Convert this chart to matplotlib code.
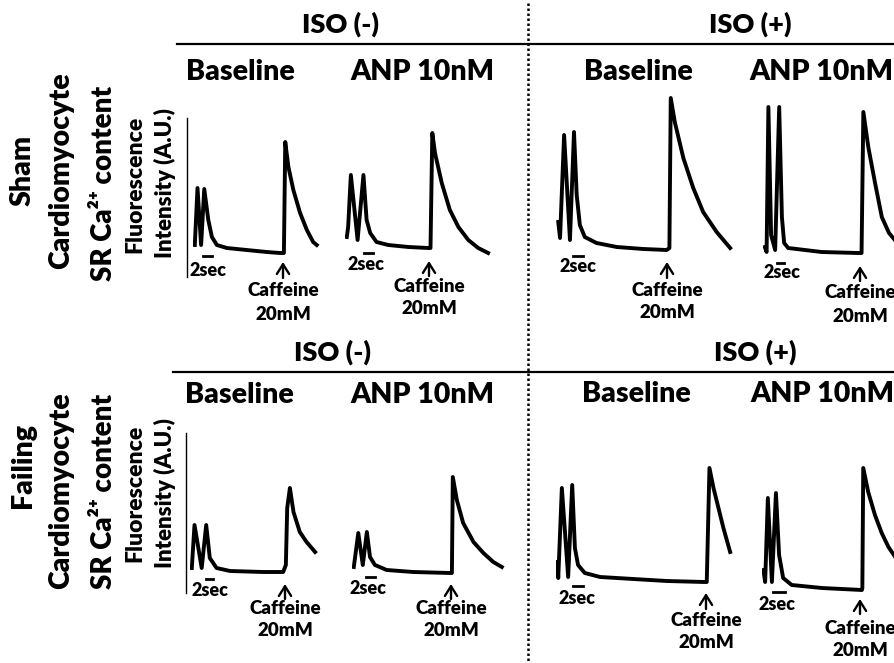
import matplotlib
matplotlib.use("Agg")
import matplotlib.pyplot as plt

plt.rcParams['font.family'] = ['Lato', 'DejaVu Sans']
plt.rcParams['font.weight'] = 'heavy'

# ---- traces: time (s) and fluorescence (A.U.) ----
# Sham, ISO(-)
t_sham_neg_base = [0.4, 1.0, 1.8, 2.5, 3.4, 4.2, 5.3, 7.5, 11.9, 16.4, 19.3, 20.2, 20.5, 21.2, 22.3, 23.8, 25.3, 26.7, 27.5]
f_sham_neg_base = [20, 77, 20, 76, 45, 28, 20, 17, 15, 13, 12, 12, 123, 98, 75, 52, 35, 23, 20]
t_sham_neg_anp = [0.4, 0.7, 1.3, 2.8, 4.1, 4.8, 5.6, 7.0, 9.6, 14.1, 18.5, 19.0, 19.4, 20.0, 21.5, 23.3, 25.2, 27.4, 29.6, 31.8]
f_sham_neg_anp = [28, 38, 90, 25, 90, 45, 32, 23, 20, 18, 17, 17, 132, 112, 82, 55, 38, 25, 17, 12]
# Sham, ISO(+)
t_sham_pos_base = [0.5, 0.9, 1.8, 3.1, 4.0, 4.6, 5.3, 6.4, 9.0, 13.5, 19.4, 24.6, 25.2, 25.5, 26.4, 28.3, 30.5, 32.7, 35.7, 38.7]
f_sham_pos_base = [43, 27, 130, 25, 133, 70, 40, 28, 22, 18, 16, 15, 17, 167, 143, 107, 77, 53, 33, 17]
t_sham_pos_anp = [0.4, 0.8, 1.2, 1.8, 2.7, 3.6, 4.2, 4.7, 5.6, 13.0, 21.1, 21.9, 22.3, 23.4, 24.9, 26.4, 28.0, 29.3]
f_sham_pos_anp = [18, 13, 158, 30, 15, 158, 48, 22, 17, 13, 12, 12, 153, 118, 82, 48, 32, 25]
# Failing, ISO(-)
t_fail_neg_base = [0.4, 1.0, 2.6, 3.6, 4.4, 5.9, 8.9, 16.3, 20.7, 21.3, 21.6, 22.2, 23.0, 24.4, 25.9, 27.8]
f_fail_neg_base = [32, 75, 32, 75, 42, 32, 29, 28, 28, 35, 92, 112, 88, 68, 58, 48]
t_fail_neg_anp = [0.4, 1.4, 2.4, 3.3, 4.0, 5.1, 7.7, 13.6, 21.8, 22.2, 22.4, 23.3, 24.7, 27.0, 29.2, 31.4, 33.3]
f_fail_neg_anp = [33, 67, 35, 68, 43, 35, 30, 28, 27, 27, 123, 100, 77, 58, 47, 38, 33]
# Failing, ISO(+)
t_fail_pos_base = [0.3, 0.5, 1.3, 2.7, 3.6, 4.2, 4.9, 6.4, 9.8, 17.2, 24.6, 33.1, 33.5, 34.1, 35.0, 36.1, 37.2, 38.7]
f_fail_pos_base = [38, 22, 112, 23, 115, 52, 35, 27, 23, 21, 19, 18, 18, 132, 112, 92, 72, 48]
t_fail_pos_anp = [0.3, 0.7, 1.3, 2.2, 3.1, 3.8, 4.7, 6.6, 13.3, 22.2, 22.3, 22.5, 23.6, 25.1, 26.6, 28.1, 29.6]
f_fail_pos_anp = [30, 18, 102, 18, 107, 45, 22, 15, 12, 10, 12, 132, 108, 85, 67, 53, 43]

traces = [(t_sham_neg_base, f_sham_neg_base), (t_sham_neg_anp, f_sham_neg_anp),
          (t_sham_pos_base, f_sham_pos_base), (t_sham_pos_anp, f_sham_pos_anp),
          (t_fail_neg_base, f_fail_neg_base), (t_fail_neg_anp, f_fail_neg_anp),
          (t_fail_pos_base, f_fail_pos_base), (t_fail_pos_anp, f_fail_pos_anp)]

condition_labels = ['Baseline', 'ANP 10nM', 'Baseline', 'ANP 10nM']
iso_labels = ['ISO (-)', 'ISO (+)']
row_labels = [('Sham', 'Cardiomyocyte'), ('Failing', 'Cardiomyocyte')]

# ---- layout (pixels of the 895x663 canvas) ----
W, H = 895, 663
PX_PER_S = 4.5
origins = [(193, 265), (345, 265), (556, 265), (763, 265),
           (190, 600), (352, 600), (556, 600), (762, 600)]
bars = [(203, 212, 256, 208, 270), (364, 373, 253, 366, 265), (573, 583, 256, 578, 267), (777, 784, 263, 782, 273),
        (206, 213, 579, 210, 590), (366, 375, 577, 368, 588), (573, 583, 586, 577, 598), (773, 785, 592, 777, 605)]
arrows = [(283, 262, 278, 291), (429, 261, 276, 286), (667, 262, 278, 290), (860, 266, 281, 293),
          (285, 584, 599, 608), (451, 584, 599, 608), (706, 593, 609, 620), (860, 599, 614, 628)]
cond_pos = [(240, 72), (422, 72), (638, 72), (821, 72), (239, 395), (422, 395), (636, 394), (822, 394)]

fig = plt.figure(figsize=(W / 100, H / 100), dpi=100)
fig.patch.set_facecolor('white')
bg = fig.add_axes([0, 0, 1, 1])
bg.set_xlim(0, W)
bg.set_ylim(H, 0)
bg.axis('off')

# traces in their own small axes
for (t, f), (x0, y0) in zip(traces, origins):
    ax = fig.add_axes([x0 / W, (H - y0) / H, 40 * PX_PER_S / W, 180 / H])
    ax.plot(t, f, color='black', lw=2.8, solid_joinstyle='round')
    ax.set_xlim(0, 40)
    ax.set_ylim(0, 180)
    ax.axis('off')

# headers
for row, y_iso, y_line, x_line in [(0, 24, 44, 177), (1, 352, 372, 173)]:
    bg.text(341 if row == 0 else 333, y_iso, iso_labels[0], ha='center', va='center', fontsize=19.5)
    bg.text(750 if row == 0 else 755, y_iso, iso_labels[1], ha='center', va='center', fontsize=19.5)
    bg.plot([x_line, W], [y_line, y_line], color='black', lw=1.6)
for i, (x, y) in enumerate(cond_pos):
    bg.text(x, y, condition_labels[i % 4], ha='center', va='center', fontsize=20.5)

# vertical dotted divider
bg.plot([528, 528], [3, H], color='black', lw=1.8, ls=(0, (1, 1)))

# y-axis lines in the first panel of each row
bg.plot([187.5, 187.5], [118, 277], color='black', lw=1.0)
bg.plot([186.5, 186.5], [433, 593], color='black', lw=1.0)

# 2 sec scale bars, caffeine arrows
for (xa, xb, yb, xt, yt) in bars:
    bg.plot([xa, xb], [yb, yb], color='black', lw=2)
    bg.text(xt, yt, '2sec', ha='center', va='center', fontsize=13)
for (xa, ytip, ybot, ytxt) in arrows:
    bg.annotate('', xy=(xa, ytip), xytext=(xa, ybot),
                arrowprops=dict(arrowstyle='->,head_length=0.35,head_width=0.22', lw=1.7,
                                color='black', mutation_scale=20, shrinkA=0, shrinkB=0))
    bg.text(xa, ytxt, 'Caffeine', ha='center', va='center', fontsize=13.5)
    bg.text(xa, ytxt + 23, '20mM', ha='center', va='center', fontsize=13.5)

# row labels
for (name, cell), yc in zip(row_labels, [(170, 171, 183, 184, 183), (465, 491, 491, 493, 493)]):
    bg.text(23, yc[0], name, rotation=90, ha='center', va='center', fontsize=20.5)
    bg.text(61, yc[1], cell, rotation=90, ha='center', va='center', fontsize=20.5)
    bg.text(104, yc[2], 'SR Ca²⁺ content', rotation=90, ha='center', va='center', fontsize=20)
    bg.text(135, yc[3], 'Fluorescence', rotation=90, ha='center', va='center', fontsize=16.5)
    bg.text(165, yc[4], 'Intensity (A.U.)', rotation=90, ha='center', va='center', fontsize=16)

fig.savefig('out.png', dpi=100, facecolor='white')
